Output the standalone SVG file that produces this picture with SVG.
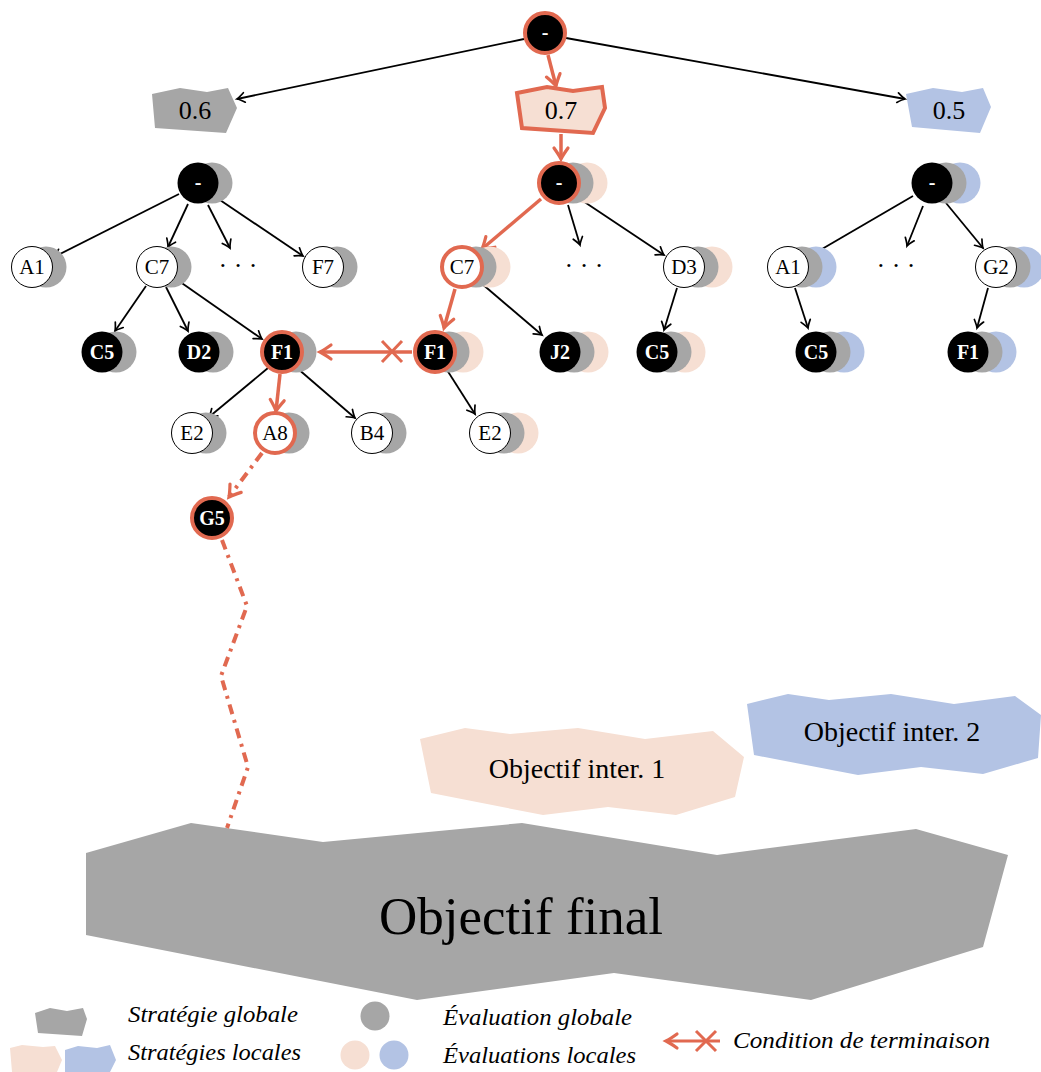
<svg xmlns="http://www.w3.org/2000/svg" width="1041" height="1072" viewBox="0 0 1041 1072">
<style>
.w{fill:#fff;stroke:#000;stroke-width:1}
.b{fill:#000}
.ow{fill:#fff;stroke:#E16950;stroke-width:4}
.ob{fill:#000;stroke:#E16950;stroke-width:4}
.sg{fill:#A6A6A6}
.sp{fill:#F6DFD3}
.sb{fill:#B3C3E4}
.lw{font-family:"Liberation Serif",serif;font-size:21px;fill:#000;text-anchor:middle}
.lb{font-family:"Liberation Serif",serif;font-size:20px;font-weight:bold;fill:#fff;text-anchor:middle}
.dots{font-family:"Liberation Serif",serif;font-size:26px;fill:#000;text-anchor:middle}
.val{font-family:"Liberation Serif",serif;font-size:26px;fill:#000;text-anchor:middle}
.obj{font-family:"Liberation Serif",serif;font-size:28px;fill:#000;text-anchor:middle}
.leg{font-family:"Liberation Serif",serif;font-size:24px;font-style:italic;fill:#000}
.e{fill:none;stroke:#000;stroke-width:1.8;marker-end:url(#ab)}
.eo{fill:none;stroke:#E16950;stroke-width:3.5;marker-end:url(#ao)}
.ed{fill:none;stroke:#E16950;stroke-width:4;stroke-dasharray:10 6 3 6}
</style>
<defs>
<marker id="ab" markerUnits="userSpaceOnUse" viewBox="-10 -7 12 14" markerWidth="12" markerHeight="14" refX="0" refY="0" orient="auto" overflow="visible">
<path d="M-7.5,-4.8 Q-2.5,-1 0,0 Q-2.5,1 -7.5,4.8" fill="none" stroke="#000" stroke-width="1.7" stroke-linecap="round"/>
</marker>
<marker id="ao" markerUnits="userSpaceOnUse" viewBox="-14 -9 16 18" markerWidth="16" markerHeight="18" refX="0" refY="0" orient="auto" overflow="visible">
<path d="M-11,-7 Q-4,-2 0,0 Q-4,2 -11,7" fill="none" stroke="#E16950" stroke-width="3.2" stroke-linecap="round"/>
</marker>
</defs>
<rect width="1041" height="1072" fill="#fff"/>

<g id="objectif-final">
<polygon points="86,853 191,823 323,842 522,823 717,855 916,829 1008,855 983,947 811,1000 614,973 417,1000 86,935" fill="#A6A6A6"/>
<text x="521" y="934" font-family="Liberation Serif, serif" font-size="53" text-anchor="middle" fill="#000">Objectif final</text>
</g>
<g id="objectif-inter-1">
<polygon points="420,739 465,728 510,734 578,728 645,739 713,731 744,757 735,797 676,815 608,807 543,815 431,793" fill="#F6DFD3"/>
<text class="obj" x="577" y="778">Objectif inter. 1</text>
</g>
<g id="objectif-inter-2">
<polygon points="747,704 788,694 829,700 891,694 954,704 1015,696 1041,715 1038,758 983,774 921,767 858,775 754,755" fill="#B3C3E4"/>
<text class="obj" x="892" y="741">Objectif inter. 2</text>
</g>

<g id="connectors">
<line class="e" x1="524" y1="39" x2="237" y2="99"/>
<line class="e" x1="566" y1="38" x2="905" y2="99"/>
<line class="eo" x1="548" y1="55" x2="556" y2="86"/>
<line class="eo" x1="561" y1="134" x2="561" y2="159"/>

<line class="e" x1="179" y1="194" x2="54" y2="257"/>
<line class="e" x1="188" y1="204" x2="168" y2="247"/>
<line class="e" x1="208" y1="205" x2="230" y2="248"/>
<line class="e" x1="217" y1="198" x2="303" y2="256"/>
<line class="e" x1="146" y1="286" x2="115" y2="331"/>
<line class="e" x1="166" y1="287" x2="188" y2="331"/>
<line class="e" x1="176" y1="279" x2="262" y2="339"/>
<line class="e" x1="268" y1="368" x2="209" y2="417"/>
<line class="eo" x1="280" y1="374" x2="276" y2="411"/>
<line class="e" x1="297" y1="368" x2="355" y2="418"/>
<line class="ed" x1="262" y1="453" x2="229" y2="497" marker-end="url(#ao)"/>
<polyline class="ed" points="222,540 247,606 221,676 248,767 227,828" stroke-linejoin="round"/>

<line class="eo" x1="541" y1="199" x2="482" y2="249"/>
<line class="e" x1="568" y1="205" x2="580" y2="245"/>
<line class="e" x1="577" y1="197" x2="664" y2="255"/>
<line class="eo" x1="455" y1="289" x2="444" y2="328"/>
<line class="e" x1="481" y1="283" x2="542" y2="335"/>
<line class="e" x1="677" y1="288" x2="664" y2="330"/>
<line class="e" x1="447" y1="370" x2="475" y2="414"/>
<g id="terminaison">
<line class="eo" x1="412" y1="352" x2="320" y2="352" stroke-width="3"/>
<path d="M382,341 L402,362 M382,362 L402,341" stroke="#E16950" stroke-width="3" fill="none"/>
</g>

<line class="e" x1="913" y1="196" x2="810" y2="256"/>
<line class="e" x1="923" y1="206" x2="907" y2="246"/>
<line class="e" x1="946" y1="203" x2="983" y2="248"/>
<line class="e" x1="795" y1="288" x2="808" y2="328"/>
<line class="e" x1="988" y1="288" x2="977" y2="328"/>
</g>

<g id="root"><circle class="ob" cx="545" cy="33" r="20"/><text class="lb" x="545" y="39">-</text></g>
<g id="val-06"><polygon points="152,94 180,88 207,92 228,88 237,108 226,133 155,128" fill="#A6A6A6"/><text class="val" x="195" y="119">0.6</text></g>
<g id="val-07"><polygon points="517,93 547,87 573,91 602,87 605,108 593,133 522,128" fill="#F6DFD3" stroke="#E16950" stroke-width="4" stroke-linejoin="miter"/><text class="val" x="561" y="119">0.7</text></g>
<g id="val-05"><polygon points="906,94 933,88 962,92 983,88 991,107 980,133 912,127" fill="#B3C3E4"/><text class="val" x="949" y="119">0.5</text></g>

<!-- left tree -->
<g id="L0"><circle class="sg" cx="212" cy="183" r="20.5"/><circle class="b" cx="198" cy="183" r="20.5"/><text class="lb" x="198" y="189">-</text></g>
<g id="LA1"><circle class="sg" cx="46" cy="267" r="20.5"/><circle class="w" cx="32" cy="267" r="20.5"/><text class="lw" x="32" y="274">A1</text></g>
<g id="LC7"><circle class="sg" cx="171" cy="267" r="20.5"/><circle class="w" cx="157" cy="267" r="20.5"/><text class="lw" x="157" y="274">C7</text></g>
<g id="Ldots"><text class="dots" x="238" y="274">· · ·</text></g>
<g id="LF7"><circle class="sg" cx="337" cy="267" r="20.5"/><circle class="w" cx="323" cy="267" r="20.5"/><text class="lw" x="323" y="274">F7</text></g>
<g id="LC5"><circle class="sg" cx="116" cy="352" r="20.5"/><circle class="b" cx="102" cy="352" r="20.5"/><text class="lb" x="102" y="359">C5</text></g>
<g id="LD2"><circle class="sg" cx="213" cy="352" r="20.5"/><circle class="b" cx="199" cy="352" r="20.5"/><text class="lb" x="199" y="359">D2</text></g>
<g id="LF1"><circle class="sg" cx="296" cy="352" r="20.5"/><circle class="ob" cx="282" cy="352" r="20"/><text class="lb" x="282" y="359">F1</text></g>
<g id="LE2"><circle class="sg" cx="206" cy="433" r="20.5"/><circle class="w" cx="192" cy="433" r="20.5"/><text class="lw" x="192" y="440">E2</text></g>
<g id="LA8"><circle class="sg" cx="289" cy="433" r="20.5"/><circle class="ow" cx="275" cy="433" r="20"/><text class="lw" x="275" y="440">A8</text></g>
<g id="LB4"><circle class="sg" cx="386" cy="433" r="20.5"/><circle class="w" cx="372" cy="433" r="20.5"/><text class="lw" x="372" y="440">B4</text></g>
<g id="G5"><circle class="ob" cx="212" cy="518" r="20"/><text class="lb" x="212" y="525">G5</text></g>

<!-- middle tree -->
<g id="M0"><circle class="sp" cx="587" cy="183" r="20.5"/><circle class="sg" cx="573" cy="183" r="20.5"/><circle class="ob" cx="559" cy="183" r="20"/><text class="lb" x="559" y="189">-</text></g>
<g id="MC7"><circle class="sp" cx="490" cy="267" r="20.5"/><circle class="sg" cx="476" cy="267" r="20.5"/><circle class="ow" cx="462" cy="267" r="20"/><text class="lw" x="462" y="274">C7</text></g>
<g id="Mdots"><text class="dots" x="584" y="274">· · ·</text></g>
<g id="MD3"><circle class="sp" cx="712" cy="267" r="20.5"/><circle class="sg" cx="698" cy="267" r="20.5"/><circle class="w" cx="684" cy="267" r="20.5"/><text class="lw" x="684" y="274">D3</text></g>
<g id="MF1"><circle class="sp" cx="463" cy="352" r="20.5"/><circle class="sg" cx="449" cy="352" r="20.5"/><circle class="ob" cx="435" cy="352" r="20"/><text class="lb" x="435" y="359">F1</text></g>
<g id="MJ2"><circle class="sp" cx="588" cy="352" r="20.5"/><circle class="sg" cx="574" cy="352" r="20.5"/><circle class="b" cx="560" cy="352" r="20.5"/><text class="lb" x="560" y="359">J2</text></g>
<g id="MC5"><circle class="sp" cx="685" cy="352" r="20.5"/><circle class="sg" cx="671" cy="352" r="20.5"/><circle class="b" cx="657" cy="352" r="20.5"/><text class="lb" x="657" y="359">C5</text></g>
<g id="ME2"><circle class="sp" cx="518" cy="433" r="20.5"/><circle class="sg" cx="504" cy="433" r="20.5"/><circle class="w" cx="490" cy="433" r="20.5"/><text class="lw" x="490" y="440">E2</text></g>

<!-- right tree -->
<g id="R0"><circle class="sb" cx="960" cy="183" r="20.5"/><circle class="sg" cx="946" cy="183" r="20.5"/><circle class="b" cx="932" cy="183" r="20.5"/><text class="lb" x="932" y="189">-</text></g>
<g id="RA1"><circle class="sb" cx="816" cy="267" r="20.5"/><circle class="sg" cx="802" cy="267" r="20.5"/><circle class="w" cx="788" cy="267" r="20.5"/><text class="lw" x="788" y="274">A1</text></g>
<g id="Rdots"><text class="dots" x="896" y="274">· · ·</text></g>
<g id="RG2"><circle class="sb" cx="1024" cy="267" r="20.5"/><circle class="sg" cx="1010" cy="267" r="20.5"/><circle class="w" cx="996" cy="267" r="20.5"/><text class="lw" x="996" y="274">G2</text></g>
<g id="RC5"><circle class="sb" cx="844" cy="352" r="20.5"/><circle class="sg" cx="830" cy="352" r="20.5"/><circle class="b" cx="816" cy="352" r="20.5"/><text class="lb" x="816" y="359">C5</text></g>
<g id="RF1"><circle class="sb" cx="996" cy="352" r="20.5"/><circle class="sg" cx="982" cy="352" r="20.5"/><circle class="b" cx="968" cy="352" r="20.5"/><text class="lb" x="968" y="359">F1</text></g>

<!-- legend -->
<g id="legend">
<polygon points="35,1013 50,1008 67,1011 83,1008 87,1019 82,1036 38,1033" fill="#A6A6A6"/>
<polygon points="10,1048 22,1045 43,1047 55,1046 62,1060 57,1072 12,1072" fill="#F6DFD3"/>
<polygon points="65,1050 78,1046 97,1048 110,1045 116,1060 110,1072 65,1072" fill="#B3C3E4"/>
<text class="leg" x="128" y="1022" textLength="170" lengthAdjust="spacingAndGlyphs">Stratégie globale</text>
<text class="leg" x="128" y="1060" textLength="173" lengthAdjust="spacingAndGlyphs">Stratégies locales</text>
<circle cx="375" cy="1016" r="14.5" fill="#A6A6A6"/>
<circle cx="355" cy="1055" r="14.5" fill="#F6DFD3"/>
<circle cx="394" cy="1055" r="14.5" fill="#B3C3E4"/>
<text class="leg" x="443" y="1025" textLength="189" lengthAdjust="spacingAndGlyphs">Évaluation globale</text>
<text class="leg" x="443" y="1063" textLength="193" lengthAdjust="spacingAndGlyphs">Évaluations locales</text>
<line x1="720" y1="1041" x2="666" y2="1041" stroke="#E16950" stroke-width="3" marker-end="url(#ao)"/>
<path d="M696,1031 L716,1051 M696,1051 L716,1031" stroke="#E16950" stroke-width="3" fill="none"/>
<text class="leg" x="733" y="1048" textLength="257" lengthAdjust="spacingAndGlyphs">Condition de terminaison</text>
</g>
</svg>
